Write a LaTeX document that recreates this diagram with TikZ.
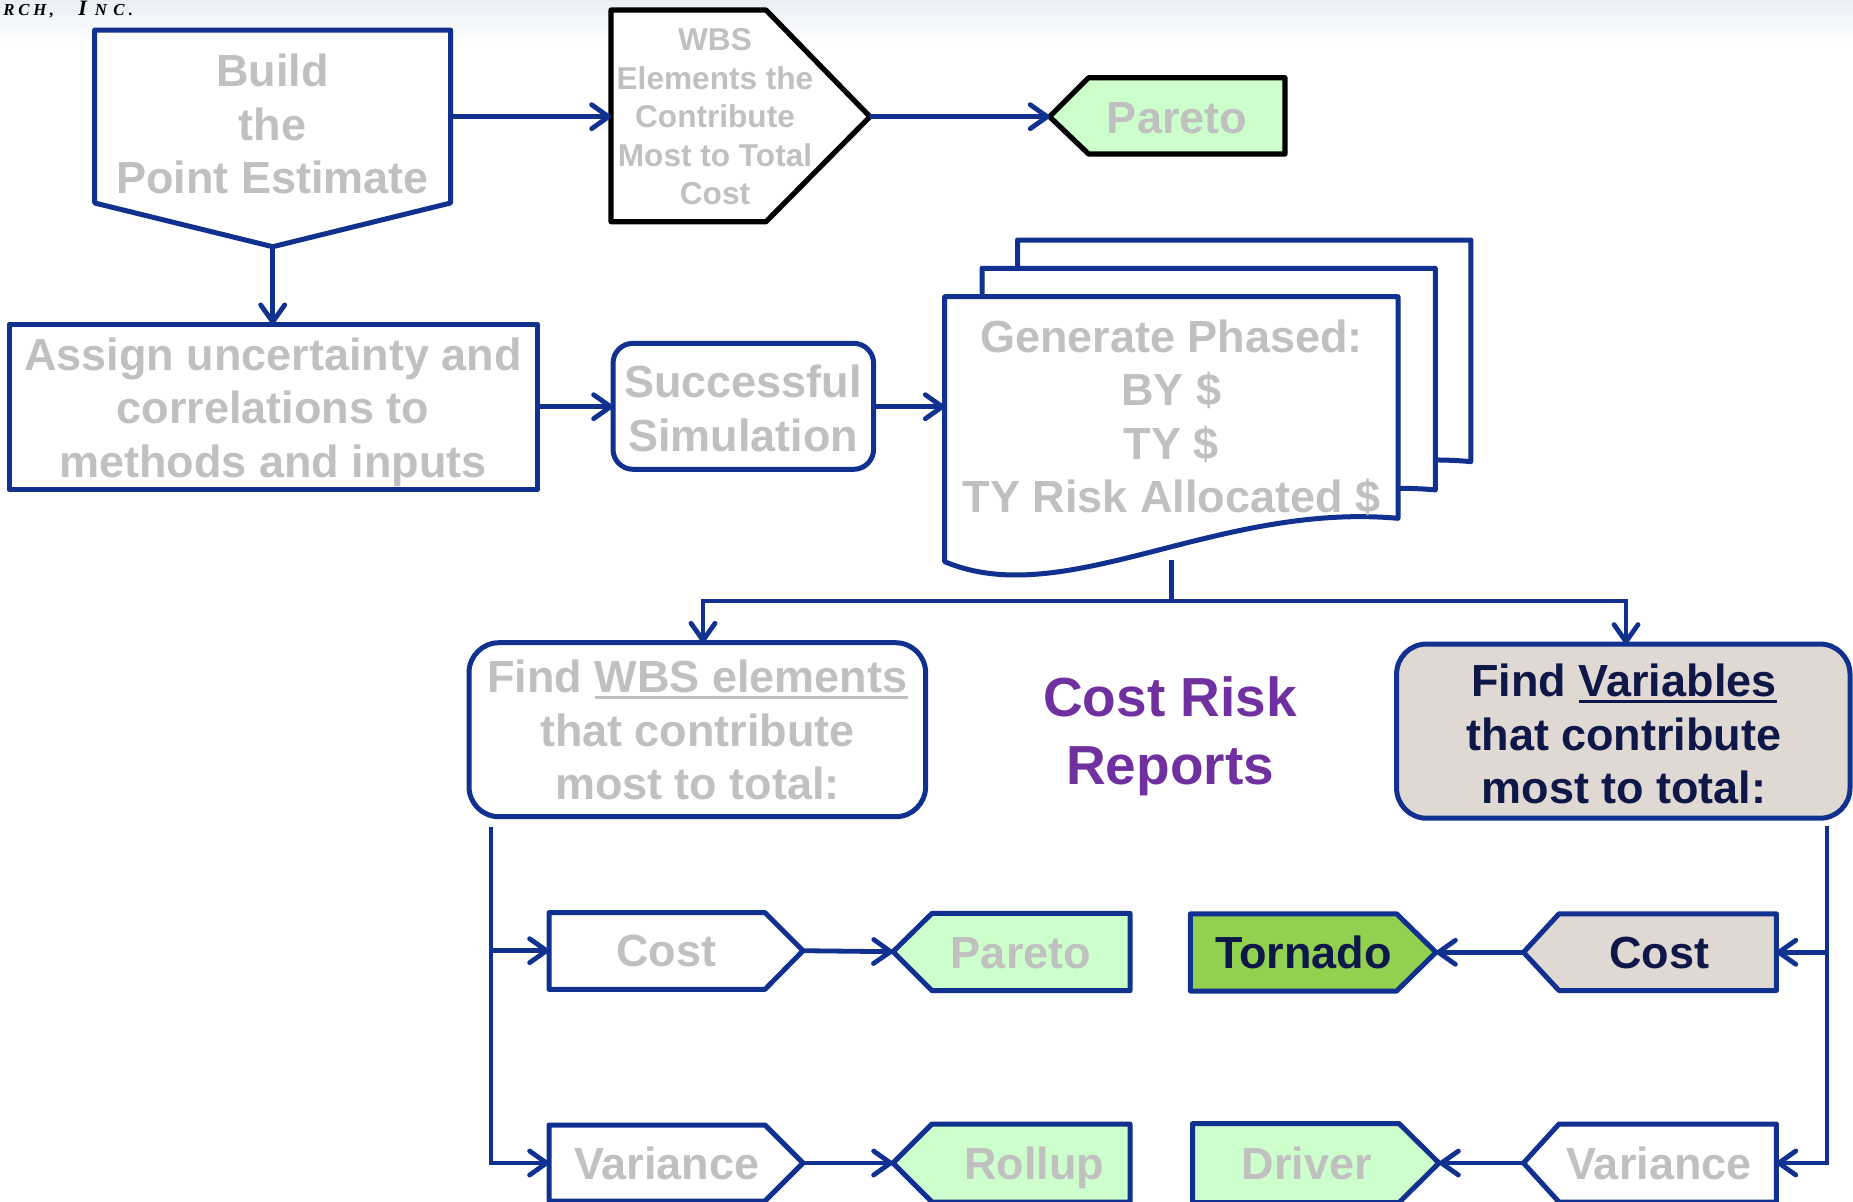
\documentclass[tikz,border=0pt]{standalone}
\usepackage{fontspec}
\setmainfont{Liberation Sans}
\newfontfamily\corpfont{Liberation Serif}
\usetikzlibrary{arrows.meta}

\definecolor{flowblue}{RGB}{16,49,143}
\definecolor{softgray}{RGB}{192,192,192}
\definecolor{mintfill}{RGB}{204,255,204}
\definecolor{leaf}{RGB}{146,208,80}
\definecolor{taupe}{RGB}{224,216,210}
\definecolor{ink}{RGB}{14,24,72}
\definecolor{plum}{RGB}{112,48,160}
\definecolor{haze}{RGB}{234,239,246}

% thick underline used inside the box labels
\newsavebox\ulbox
\newcommand\ulword[1]{\sbox\ulbox{#1}\rlap{\rule[-3.3pt]{\wd\ulbox}{1.6pt}}\usebox\ulbox}

\begin{document}
\begin{tikzpicture}[x=0.5pt,y=-0.5pt,
  outline/.style={draw=flowblue,line width=2.5pt,line join=round},
  darkline/.style={draw=black,line width=2.6pt,line join=round},
  trunk/.style={draw=flowblue,line width=2.4pt},
  link/.style={trunk,-{Straight Barb[length=8.5pt,width=12pt,round]}},
  txt/.style={inner sep=0pt,align=center,text=softgray,
    font=\fontsize{22.5}{26.75}\selectfont\bfseries},
  tagtxt/.style={txt,text height=16.2pt,text depth=0pt},
  smalltxt/.style={txt,font=\fontsize{15.8}{19.25}\selectfont\bfseries},
  titletxt/.style={txt,text=plum,font=\fontsize{27.5}{33.8}\selectfont\bfseries}]

\useasboundingbox (0,0) rectangle (1853,1201);
\clip (0,0) rectangle (1853,1201);
\fill[white] (0,0) rectangle (1853,1201);
\shade[top color=haze,bottom color=white] (0,0) rectangle (1853,46);

% company name in the page header
\node[anchor=base west,inner sep=0pt] (corp) at (3,15)
  {\corpfont\bfseries\itshape\fontsize{8.4}{8.4}\selectfont
   \makebox[7.5pt][l]{R}\makebox[7.5pt][l]{C}\makebox[8.2pt][l]{H}\makebox[14.3pt][l]{,}%
   \makebox[8.2pt][l]{\fontsize{11}{11}\selectfont I}\makebox[9.3pt][l]{N}\makebox[7.7pt][l]{C}.};

% ---------- top row ----------
\path[outline,fill=white] (94.7,30) -- (450.6,30) -- (450.6,203) -- (272.7,246.7) -- (94.7,203) -- cycle;
\node[txt] (build) at (272.7,124) {Build\\the\\Point Estimate};
\coordinate (buildE) at (450.6,116.7);
\coordinate (buildS) at (272.7,246.7);

\path[darkline,fill=white] (611,10) -- (766,10) -- (870,116.7) -- (766,221.7) -- (611,221.7) -- cycle;
\node[smalltxt] (wbs) at (715,117) {WBS\\Elements the\\Contribute\\Most to Total\\Cost};
\coordinate (wbsW) at (611,116.7);
\coordinate (wbsE) at (870,116.7);

\path[darkline,fill=mintfill] (1049.6,116.7) -- (1088.6,77.7) -- (1285,77.7) -- (1285,154) -- (1088.6,154) -- cycle;
\node[tagtxt] (paretoTop) at (1177,117) {Pareto};
\coordinate (paretoTopW) at (1049.6,116.7);

\draw[link] (buildE) -- (wbsW);
\draw[link] (wbsE) -- (paretoTopW);

% ---------- second row ----------
\path[outline,fill=white] (9,324.3) rectangle (537.4,489.3);
\node[txt] (assign) at (273,412) {Assign uncertainty and\\correlations to\\methods and inputs};
\coordinate (assignN) at (272.7,324.3);
\coordinate (assignE) at (537.4,406.7);

\path[outline,fill=white,rounded corners=10pt] (613,343.3) rectangle (873.6,469.3);
\node[txt] (sim) at (743,408.5) {Successful\\Simulation};
\coordinate (simW) at (613,406.7);
\coordinate (simE) at (873.6,406.7);

% stacked output pages, back to front
\foreach \dx/\dy in {72.8/-56.7, 37.3/-28.4, 0/0}{
  \begin{scope}[shift={(\dx,\dy)}]
    \path[outline,fill=white] (944.7,296.7) -- (1398,296.7) -- (1398,518.3)
      .. controls (1215,502) and (1065,612) .. (944.7,561.7) -- cycle;
  \end{scope}
}
\node[txt] (phased) at (1171.5,418) {Generate Phased:\\BY \$\\TY \$\\TY Risk Allocated \$};
\coordinate (docW) at (944.7,406.7);
\coordinate (docS) at (1171.5,560);
\coordinate (split) at (1171.5,601);

\draw[link] (buildS) -- (assignN);
\draw[link] (assignE) -- (simW);
\draw[link] (simE) -- (docW);

% ---------- report finders ----------
\path[outline,fill=white,rounded corners=15pt] (469,642.7) rectangle (925.6,816.7);
\node[txt] (findWbs) at (697.5,730) {Find \ulword{WBS elements}\\that contribute\\most to total:};
\coordinate (findWbsN) at (703,642.7);

\node[titletxt] (title) at (1170,736) {Cost Risk\\Reports};

\path[outline,fill=taupe,rounded corners=15pt] (1396.6,644) rectangle (1850,818.2);
\node[txt,text=ink] (findVar) at (1624,734) {Find \ulword{Variables}\\that contribute\\most to total:};
\coordinate (findVarN) at (1626,644);

\draw[trunk] (docS) -- (split);
\draw[link] (split) -| (findWbsN);
\draw[link] (split) -| (findVarN);

% ---------- WBS element reports ----------
\path[outline,fill=white] (549,912.7) -- (765,912.7) -- (803,950.7) -- (765,989.3) -- (549,989.3) -- cycle;
\node[tagtxt] (costL) at (666.5,950.7) {Cost};
\path[outline,fill=mintfill] (893,951.7) -- (932,913.3) -- (1130,913.3) -- (1130,990.7) -- (932,990.7) -- cycle;
\node[tagtxt] (paretoL) at (1021,952) {Pareto};

\path[outline,fill=white] (549,1125) -- (765,1125) -- (803,1163) -- (765,1201) -- (549,1201) -- cycle;
\node[tagtxt] (varL) at (666.7,1163) {Variance};
\path[outline,fill=mintfill] (893,1163) -- (932,1124) -- (1130,1124) -- (1130,1202) -- (932,1202) -- cycle;
\node[tagtxt] (rollup) at (1034,1163) {Rollup};

\coordinate (leftTop) at (491,826.7);
\coordinate (costLW) at (549,950.7);
\coordinate (costLE) at (803,950.7);
\coordinate (paretoLW) at (893,951.7);
\coordinate (varLW) at (549,1163);
\coordinate (varLE) at (803,1163);
\coordinate (rollupW) at (893,1163);

\draw[link] (leftTop) |- (costLW);
\draw[link] (leftTop) |- (varLW);
\draw[link] (costLE) -- (paretoLW);
\draw[link] (varLE) -- (rollupW);

% ---------- variable reports ----------
\path[outline,fill=leaf] (1190.4,913.8) -- (1396.6,913.8) -- (1436,952.3) -- (1396.6,991) -- (1190.4,991) -- cycle;
\node[tagtxt,text=ink] (tornado) at (1303.6,952.3) {Tornado};
\path[outline,fill=taupe] (1523.5,952.3) -- (1559,913.8) -- (1776.4,913.8) -- (1776.4,990.5) -- (1559,990.5) -- cycle;
\node[tagtxt,text=ink] (costR) at (1659,952.3) {Cost};

\path[outline,fill=mintfill] (1192.6,1123.5) -- (1399,1123.5) -- (1439,1163) -- (1399,1202.5) -- (1192.6,1202.5) -- cycle;
\node[tagtxt] (driver) at (1307,1163) {Driver};
\path[outline,fill=white] (1523.5,1163) -- (1559,1124) -- (1776.4,1124) -- (1776.4,1202) -- (1559,1202) -- cycle;
\node[tagtxt] (varR) at (1659,1163) {Variance};

\coordinate (rightTop) at (1827,825.6);
\coordinate (costRE) at (1776.4,952.3);
\coordinate (costRW) at (1523.5,952.3);
\coordinate (tornadoE) at (1436,952.3);
\coordinate (varRE) at (1776.4,1163);
\coordinate (varRW) at (1523.5,1163);
\coordinate (driverE) at (1439,1163);

\draw[link] (rightTop) |- (costRE);
\draw[link] (rightTop) |- (varRE);
\draw[link] (costRW) -- (tornadoE);
\draw[link] (varRW) -- (driverE);

\end{tikzpicture}
\end{document}
